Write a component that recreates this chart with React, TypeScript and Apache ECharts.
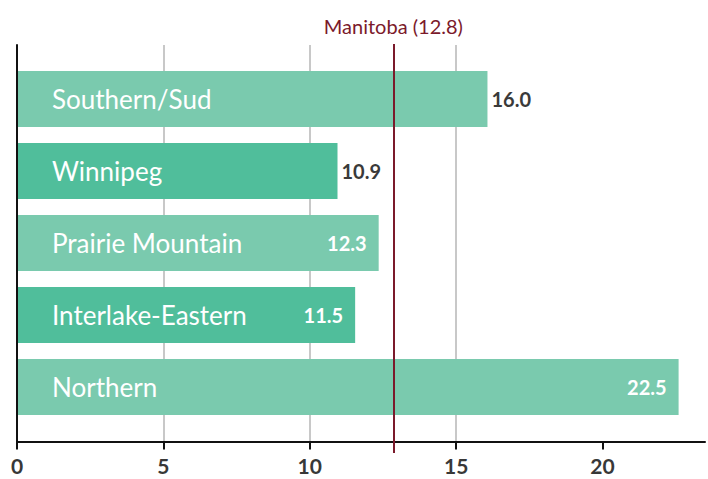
import React, { useEffect, useRef } from "react";
import * as echarts from "echarts";

const categories = ["Southern/Sud", "Winnipeg", "Prairie Mountain", "Interlake-Eastern", "Northern"];
const values = [16.0, 10.9, 12.3, 11.5, 22.5];
const labelInside = [false, false, true, true, true];
const barColors = ["#7acaae", "#50be9b", "#7acaae", "#50be9b", "#7acaae"];
const manitobaName = "Manitoba";
const manitobaValue = 12.8;
const xTicks = [0, 5, 10, 15, 20];

const FONT = "Lato, 'Noto Sans', sans-serif";
const GRID_LEFT = 17;
const GRID_RIGHT = 0;
const X_MAX = 23.5;

export default function App() {
  const ref = useRef<HTMLDivElement>(null);
  useEffect(() => {
    if (!ref.current) return;
    const chart = echarts.init(ref.current, null, { renderer: "svg" });
    const hiddenX = (gridIndex: number) => ({
      type: "value", gridIndex, min: 0, max: X_MAX, show: false,
    });
    const option: any = {
      animation: false,
      backgroundColor: "#ffffff",
      grid: [
        { left: GRID_LEFT, right: GRID_RIGHT, top: 45, bottom: 37.5 },
        { left: GRID_LEFT, right: GRID_RIGHT, top: 63, bottom: 56 },
        { left: GRID_LEFT, right: GRID_RIGHT, top: 44, bottom: 26 },
      ],
      xAxis: [
        {
          type: "value", gridIndex: 0, min: 0, max: X_MAX, interval: 5,
          axisLine: { show: true, lineStyle: { color: "#111", width: 2 } },
          axisTick: { show: true, length: 8, customValues: xTicks, lineStyle: { color: "#111", width: 2 } },
          splitLine: { show: true, showMaxLine: false, lineStyle: { color: "#c8c8c8", width: 2 } },
          axisLabel: {
            margin: 13, color: "#383838", fontSize: 21, fontWeight: "bold", fontFamily: FONT,
            formatter: (v: number) => (xTicks.includes(v) ? String(v) : ""),
          },
        },
        hiddenX(1),
        hiddenX(2),
      ],
      yAxis: [
        {
          type: "value", gridIndex: 0, min: 0, max: 1, z: 5,
          axisLine: { show: true, lineStyle: { color: "#111", width: 2 } },
          axisTick: { show: false }, axisLabel: { show: false }, splitLine: { show: false },
        },
        {
          type: "category", gridIndex: 1, data: categories, inverse: true, z: 6,
          axisLine: { show: false }, axisTick: { show: false }, splitLine: { show: false },
          axisLabel: { inside: true, margin: 35, color: "#ffffff", fontSize: 26, fontFamily: FONT },
        },
        { type: "value", gridIndex: 2, min: 0, max: 1, show: false },
      ],
      series: [
        {
          type: "bar", xAxisIndex: 1, yAxisIndex: 1, barWidth: 56,
          data: values.map((v, i) => ({
            value: v,
            itemStyle: { color: barColors[i] },
            label: {
              show: true,
              position: labelInside[i] ? "insideRight" : "right",
              distance: labelInside[i] ? 12 : 4,
              color: labelInside[i] ? "#ffffff" : "#3a3a3a",
              fontSize: 20, fontWeight: "bold", fontFamily: FONT,
              formatter: () => v.toFixed(1),
            },
          })),
        },
        {
          type: "scatter", xAxisIndex: 2, yAxisIndex: 2, symbolSize: 0,
          data: [[manitobaValue, 0]], silent: true,
          markLine: {
            silent: true, symbol: "none",
            lineStyle: { color: "#7b1a2b", width: 2, type: "solid" },
            label: {
              show: true, position: "end", distance: 8,
              color: "#7b1a2b", fontSize: 20, fontFamily: FONT,
              formatter: () => `${manitobaName} (${manitobaValue.toFixed(1)})`,
            },
            data: [{ xAxis: manitobaValue }],
          },
        },
      ],
    };
    chart.setOption(option);
    return () => chart.dispose();
  }, []);
  return <div ref={ref} style={{ width: 708, height: 479, position: "absolute", left: 0, top: 0 }} />;
}
